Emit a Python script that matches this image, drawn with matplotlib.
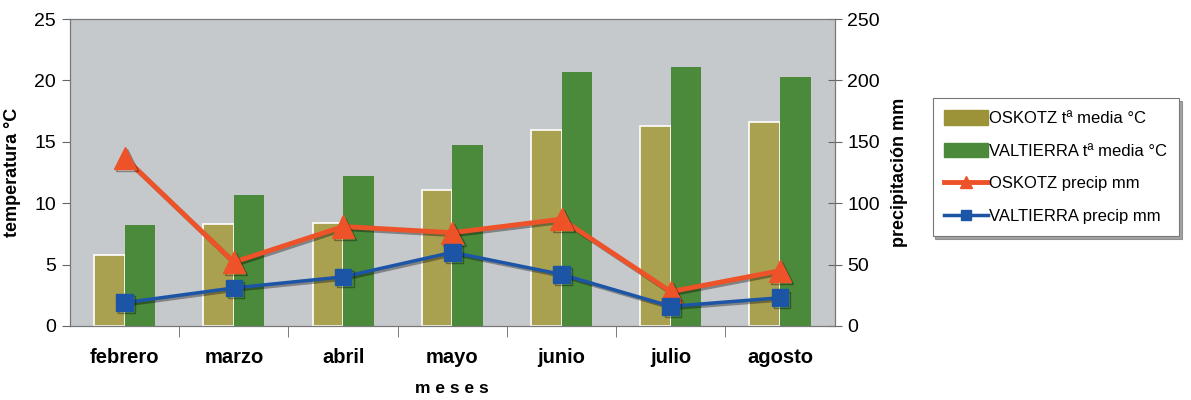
import matplotlib.pyplot as plt
import matplotlib.patheffects as pe
from matplotlib.patches import Patch
from matplotlib.lines import Line2D
import numpy as np

plt.rcParams['font.family'] = ['Liberation Sans', 'DejaVu Sans']

meses = ['febrero', 'marzo', 'abril', 'mayo', 'junio', 'julio', 'agosto']
oskotz_temp = [5.8, 8.3, 8.4, 11.1, 16.0, 16.3, 16.6]
valtierra_temp = [8.2, 10.7, 12.2, 14.7, 20.7, 21.1, 20.3]
oskotz_prec = [137, 52, 81, 76, 87, 28, 45]
valtierra_prec = [19, 31, 40, 60, 42, 16, 23]

c_olive = '#a9a150'
c_green = '#4a8a3a'
c_red = '#ee5228'
c_blue = '#1c54a6'
c_bg = '#c5c9cc'

x = np.arange(len(meses))
w = 0.28

fig = plt.figure(figsize=(11.91, 4), dpi=100)
ax = fig.add_axes([0.0588, 0.185, 0.642, 0.7675])
ax.set_facecolor(c_bg)

ax.bar(x - w / 2, oskotz_temp, w, color=c_olive, edgecolor='white', linewidth=1.2)
ax.bar(x + w / 2, valtierra_temp, w, color=c_green, edgecolor='none')

ax.set_xlim(-0.5, 6.5)
ax.set_ylim(0, 25)
ax.set_yticks([0, 5, 10, 15, 20, 25])
ax.set_xticks(x)
ax.set_xticklabels(meses, fontsize=14.5, fontweight='bold')
ax.set_xticks(np.arange(0.5, 6, 1), minor=True)
ax.tick_params(axis='x', which='major', length=0, pad=16)
ax.tick_params(axis='x', which='minor', length=8, direction='out', color='#666666')
ax.tick_params(axis='y', labelsize=14, length=6, color='#666666', pad=4)
ax.set_xlabel('m e s e s', fontsize=12.5, fontweight='bold', labelpad=10)
ax.set_ylabel('temperatura °C', fontsize=13, fontweight='bold', labelpad=10)

for s in ['left', 'bottom', 'top', 'right']:
    ax.spines[s].set_color('#777777')

ax2 = ax.twinx()
ax2.set_ylim(0, 250)
ax2.set_yticks([0, 50, 100, 150, 200, 250])
ax2.tick_params(axis='y', labelsize=14, length=10, direction='inout', color='#666666', pad=4)
ax2.set_ylabel('precipitación mm', fontsize=13, fontweight='bold', labelpad=8)
for s in ['left', 'bottom', 'top', 'right']:
    ax2.spines[s].set_color('#777777')

shadow = [pe.SimpleLineShadow(offset=(1.5, -1.5), alpha=0.35), pe.Normal()]
ax2.plot(x, oskotz_prec, color=c_red, lw=3.5, marker='^', ms=16,
         markeredgecolor=c_red, path_effects=shadow, zorder=3)
ax2.plot(x, valtierra_prec, color=c_blue, lw=2.5, marker='s', ms=12,
         markeredgecolor=c_blue, path_effects=shadow, zorder=4)

handles = [
    Patch(facecolor='#9c9238', edgecolor='#9c9238'),
    Patch(facecolor=c_green, edgecolor=c_green),
    Line2D([], [], color=c_red, lw=3.5, marker='^', ms=8),
    Line2D([], [], color=c_blue, lw=2.5, marker='s', ms=7),
]
labels = ['OSKOTZ tª media °C', 'VALTIERRA tª media °C',
          'OSKOTZ precip mm', 'VALTIERRA precip mm']
leg = fig.legend(handles, labels, loc='upper left', bbox_to_anchor=(0.783, 0.755),
                 fontsize=12, frameon=True, fancybox=False, shadow=True,
                 handlelength=2.6, handleheight=1.0, handletextpad=0.1,
                 labelspacing=1.0, borderpad=0.7, borderaxespad=0)
leg.get_frame().set_edgecolor('#777777')
leg.get_frame().set_linewidth(0.8)

fig.savefig('out.png', dpi=100)
